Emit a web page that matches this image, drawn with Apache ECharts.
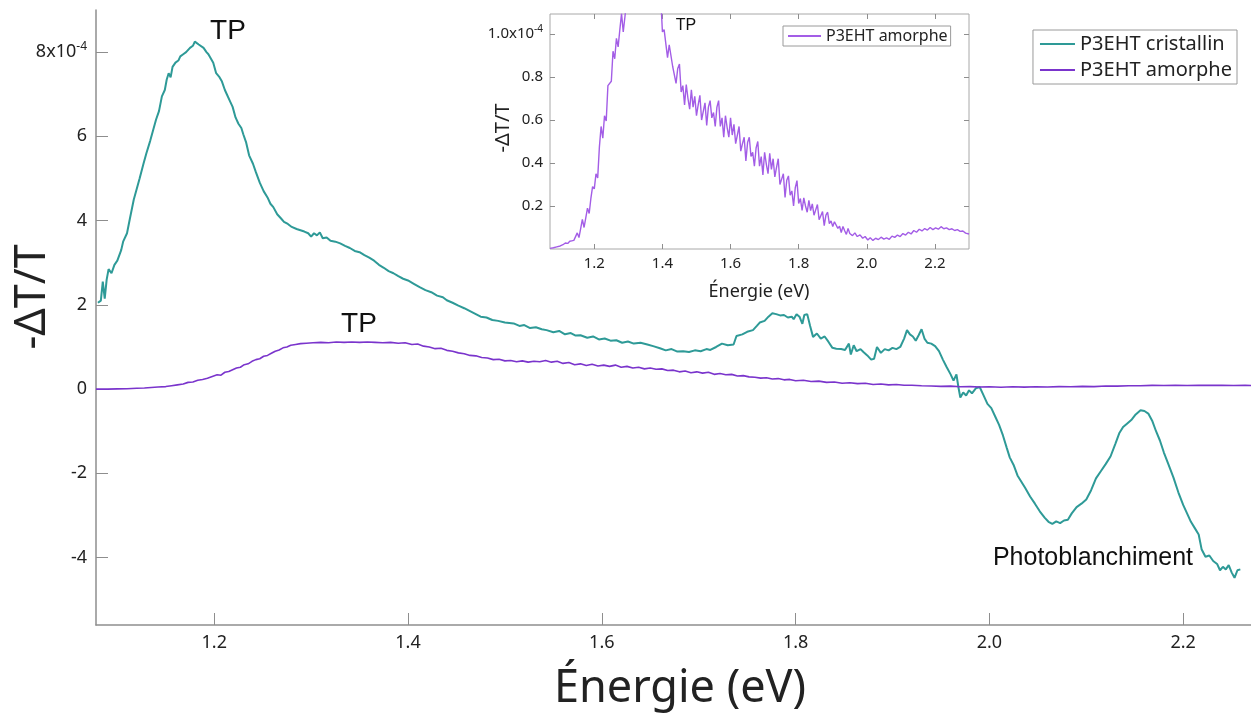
<!DOCTYPE html>
<html>
<head>
<meta charset="utf-8">
<script src="https://cdn.jsdelivr.net/npm/echarts@6/dist/echarts.min.js"></script>
<style>
  html, body { margin: 0; padding: 0; background: #fff; }
  #chart { width: 1251px; height: 717px; }
</style>
</head>
<body>
<div id="chart"></div>
<script>
// Transient absorption spectra, -ΔT/T in units of 1e-4, energy in eV
const crystallin = [
  [1.080,2.05],[1.083,2.10],[1.085,2.55],[1.087,2.15],[1.089,2.60],[1.091,2.85],[1.094,2.75],[1.097,2.95],
  [1.100,3.05],[1.104,3.30],[1.106,3.50],[1.110,3.70],[1.113,4.05],[1.117,4.50],[1.120,4.75],[1.123,5.00],
  [1.127,5.35],[1.130,5.60],[1.134,5.90],[1.137,6.15],[1.140,6.40],[1.143,6.60],[1.146,6.95],[1.149,7.10],
  [1.151,7.35],[1.153,7.50],[1.155,7.40],[1.157,7.65],[1.160,7.75],[1.163,7.80],[1.165,7.90],[1.168,7.95],
  [1.171,8.00],[1.175,8.10],[1.178,8.15],[1.180,8.25],[1.182,8.28],[1.184,8.18],[1.186,8.22],[1.189,8.10],
  [1.192,8.00],[1.194,7.95],[1.196,7.98],[1.199,7.75],[1.202,7.50],[1.205,7.42],[1.208,7.30],[1.211,7.10],
  [1.213,7.00],[1.216,6.85],[1.219,6.70],[1.222,6.45],[1.225,6.30],[1.228,6.20],[1.230,6.05],[1.233,5.85],
  [1.236,5.55],[1.240,5.35],[1.243,5.15],[1.247,4.90],[1.251,4.70],[1.255,4.55],[1.258,4.40],[1.261,4.32],
  [1.265,4.15],[1.269,4.05],[1.272,3.97],[1.276,3.92],[1.280,3.85],[1.285,3.80],[1.289,3.77],[1.293,3.74],
  [1.297,3.70],[1.300,3.62],[1.303,3.70],[1.306,3.65],[1.309,3.72],[1.312,3.58],[1.316,3.60],[1.320,3.52],
  [1.325,3.50],[1.330,3.46],[1.335,3.40],[1.340,3.35],[1.345,3.28],[1.350,3.25],[1.355,3.18],[1.360,3.12],
  [1.365,3.05],[1.370,2.95],[1.375,2.88],[1.380,2.80],[1.385,2.75],[1.390,2.68],[1.395,2.62],[1.400,2.58],
  [1.406,2.50],[1.412,2.42],[1.418,2.35],[1.424,2.30],[1.430,2.22],[1.436,2.18],[1.440,2.11],[1.446,2.05],
  [1.452,1.98],[1.458,1.92],[1.464,1.85],[1.470,1.78],[1.475,1.72],[1.481,1.70],[1.487,1.64],[1.493,1.62],
  [1.500,1.58],[1.509,1.56],[1.515,1.50],[1.520,1.52],[1.526,1.45],[1.532,1.47],[1.538,1.42],[1.543,1.40],
  [1.550,1.35],[1.556,1.38],[1.562,1.30],[1.568,1.33],[1.573,1.27],[1.578,1.28],[1.585,1.22],[1.591,1.25],
  [1.597,1.18],[1.603,1.20],[1.609,1.15],[1.615,1.16],[1.621,1.10],[1.627,1.13],[1.633,1.08],[1.640,1.10],
  [1.647,1.06],[1.653,1.02],[1.660,0.97],[1.666,0.92],[1.672,0.95],[1.678,0.89],[1.684,0.90],[1.690,0.88],
  [1.696,0.92],[1.702,0.90],[1.708,0.95],[1.712,0.93],[1.718,1.00],[1.724,1.08],[1.730,1.04],[1.736,1.06],
  [1.739,1.26],[1.745,1.30],[1.750,1.36],[1.756,1.40],[1.760,1.50],[1.763,1.58],[1.768,1.62],[1.772,1.72],
  [1.776,1.80],[1.780,1.78],[1.784,1.75],[1.788,1.76],[1.792,1.70],[1.796,1.72],[1.798,1.66],[1.801,1.78],
  [1.804,1.72],[1.807,1.55],[1.809,1.76],[1.812,1.78],[1.815,1.50],[1.818,1.24],[1.822,1.32],[1.826,1.20],
  [1.830,1.25],[1.834,1.12],[1.838,0.98],[1.842,0.96],[1.847,0.95],[1.851,0.93],[1.855,1.08],[1.857,0.82],
  [1.860,1.04],[1.863,0.90],[1.867,0.95],[1.870,0.88],[1.874,0.80],[1.878,0.70],[1.881,0.72],[1.884,1.00],
  [1.888,0.86],[1.892,0.95],[1.896,0.92],[1.900,0.98],[1.904,0.95],[1.908,1.00],[1.912,1.20],[1.915,1.40],
  [1.918,1.30],[1.921,1.25],[1.924,1.15],[1.927,1.28],[1.930,1.42],[1.933,1.20],[1.936,1.10],[1.940,1.08],
  [1.944,1.02],[1.948,0.90],[1.952,0.70],[1.956,0.52],[1.960,0.35],[1.963,0.20],[1.966,0.35],[1.968,0.05],
  [1.970,-0.20],[1.973,-0.08],[1.976,-0.15],[1.979,-0.03],[1.982,-0.10],[1.986,0.02],[1.990,0.05],[1.994,-0.15],
  [1.998,-0.35],[2.002,-0.45],[2.006,-0.65],[2.010,-0.85],[2.014,-1.10],[2.018,-1.40],[2.021,-1.62],[2.025,-1.80],
  [2.029,-2.05],[2.033,-2.20],[2.037,-2.35],[2.042,-2.55],[2.047,-2.72],[2.052,-2.90],[2.057,-3.05],[2.061,-3.15],
  [2.065,-3.20],[2.069,-3.14],[2.073,-3.18],[2.077,-3.12],[2.081,-3.10],[2.085,-2.95],[2.090,-2.80],[2.095,-2.72],
  [2.100,-2.62],[2.105,-2.40],[2.110,-2.12],[2.115,-1.95],[2.120,-1.78],[2.125,-1.60],[2.130,-1.30],[2.134,-1.05],
  [2.138,-0.90],[2.142,-0.82],[2.147,-0.72],[2.151,-0.60],[2.156,-0.50],[2.160,-0.52],[2.164,-0.58],[2.168,-0.75],
  [2.172,-1.00],[2.176,-1.22],[2.180,-1.50],[2.185,-1.80],[2.190,-2.10],[2.195,-2.45],[2.200,-2.75],[2.204,-2.95],
  [2.208,-3.15],[2.212,-3.30],[2.216,-3.45],[2.219,-3.80],[2.223,-3.98],[2.227,-3.95],[2.231,-4.08],[2.235,-4.15],
  [2.238,-4.30],[2.241,-4.22],[2.244,-4.28],[2.247,-4.18],[2.250,-4.35],[2.253,-4.48],[2.256,-4.30],[2.259,-4.28]
];

// amorphous film, averaged trace shown on the main axes
const amorphe = [
  [1.078,0.000],[1.090,0.000],[1.100,0.005],[1.110,0.010],[1.120,0.020],[1.128,0.025],[1.135,0.040],[1.142,0.050],
  [1.150,0.060],[1.156,0.080],[1.162,0.100],[1.168,0.120],[1.173,0.160],[1.178,0.170],[1.183,0.210],[1.188,0.230],
  [1.193,0.260],[1.198,0.300],[1.203,0.340],[1.207,0.330],[1.211,0.400],[1.215,0.420],[1.219,0.460],[1.223,0.500],
  [1.227,0.520],[1.231,0.580],[1.235,0.600],[1.239,0.660],[1.243,0.700],[1.247,0.720],[1.251,0.780],[1.255,0.800],
  [1.259,0.850],[1.263,0.900],[1.267,0.930],[1.271,0.980],[1.275,1.000],[1.279,1.040],[1.284,1.060],[1.289,1.080],
  [1.295,1.090],[1.302,1.100],[1.310,1.110],[1.318,1.100],[1.326,1.120],[1.334,1.110],[1.342,1.120],[1.350,1.110],
  [1.358,1.120],[1.366,1.110],[1.374,1.100],[1.382,1.110],[1.390,1.090],[1.397,1.100],[1.404,1.060],[1.410,1.070],
  [1.416,1.020],[1.422,1.000],[1.428,0.960],[1.434,0.970],[1.440,0.920],[1.446,0.900],[1.452,0.860],[1.458,0.840],
  [1.464,0.800],[1.470,0.790],[1.476,0.750],[1.482,0.740],[1.488,0.700],[1.494,0.710],[1.500,0.670],[1.506,0.680],
  [1.512,0.650],[1.518,0.670],[1.524,0.640],[1.530,0.660],[1.536,0.650],[1.542,0.680],[1.548,0.640],[1.554,0.660],
  [1.560,0.610],[1.566,0.630],[1.572,0.580],[1.578,0.600],[1.584,0.560],[1.590,0.590],[1.596,0.550],[1.602,0.570],
  [1.608,0.540],[1.614,0.570],[1.620,0.520],[1.626,0.540],[1.632,0.500],[1.638,0.520],[1.644,0.480],[1.650,0.500],
  [1.656,0.470],[1.662,0.480],[1.668,0.440],[1.674,0.450],[1.680,0.410],[1.686,0.430],[1.692,0.390],[1.698,0.410],
  [1.704,0.380],[1.710,0.400],[1.716,0.350],[1.722,0.370],[1.728,0.340],[1.734,0.350],[1.740,0.310],[1.746,0.320],
  [1.752,0.290],[1.758,0.280],[1.764,0.260],[1.770,0.270],[1.776,0.240],[1.782,0.250],[1.788,0.220],[1.794,0.230],
  [1.800,0.200],[1.808,0.210],[1.816,0.180],[1.824,0.190],[1.832,0.160],[1.840,0.170],[1.848,0.140],[1.856,0.150],
  [1.864,0.130],[1.872,0.140],[1.880,0.110],[1.888,0.120],[1.896,0.100],[1.904,0.110],[1.912,0.090],[1.920,0.090],
  [1.930,0.080],[1.940,0.075],[1.950,0.065],[1.960,0.070],[1.970,0.055],[1.980,0.060],[1.990,0.050],[2.000,0.055],
  [2.012,0.045],[2.024,0.055],[2.036,0.048],[2.048,0.055],[2.060,0.050],[2.072,0.060],[2.084,0.055],[2.096,0.065],
  [2.108,0.060],[2.120,0.075],[2.132,0.070],[2.144,0.080],[2.156,0.078],[2.168,0.088],[2.180,0.085],[2.192,0.090],
  [2.204,0.085],[2.216,0.092],[2.228,0.088],[2.240,0.090],[2.252,0.085],[2.264,0.088],[2.276,0.085]
];

// amorphous film, raw trace shown in the inset
const amorpheRaw = [
  [1.070,0.003],[1.080,0.006],[1.090,0.010],[1.100,0.014],[1.108,0.020],[1.115,0.028],[1.122,0.026],[1.128,0.036],
  [1.134,0.038],[1.140,0.040],[1.145,0.048],[1.150,0.075],[1.155,0.053],[1.160,0.095],[1.165,0.138],[1.170,0.100],
  [1.175,0.145],[1.180,0.190],[1.185,0.165],[1.190,0.235],[1.195,0.290],[1.200,0.280],[1.205,0.350],[1.210,0.330],
  [1.215,0.475],[1.220,0.570],[1.225,0.515],[1.230,0.620],[1.235,0.595],[1.240,0.760],[1.245,0.765],[1.250,0.780],
  [1.255,0.920],[1.260,0.885],[1.265,0.980],[1.270,0.940],[1.275,1.020],[1.280,1.095],[1.285,1.010],[1.290,1.080],
  [1.295,1.155],[1.300,1.120],[1.305,1.165],[1.310,1.180],[1.315,1.140],[1.320,1.155],[1.325,1.125],[1.330,1.170],
  [1.335,1.190],[1.340,1.135],[1.345,1.160],[1.350,1.120],[1.355,1.175],[1.360,1.150],[1.365,1.130],[1.370,1.180],
  [1.375,1.145],[1.380,1.175],[1.385,1.135],[1.390,1.160],[1.395,1.170],[1.400,1.010],[1.405,1.020],[1.410,1.025],
  [1.415,0.890],[1.420,0.950],[1.425,0.955],[1.430,0.850],[1.435,0.855],[1.440,0.770],[1.445,0.840],[1.450,0.860],
  [1.455,0.730],[1.460,0.760],[1.465,0.670],[1.470,0.765],[1.475,0.700],[1.480,0.650],[1.485,0.740],[1.490,0.660],
  [1.495,0.710],[1.500,0.620],[1.505,0.670],[1.510,0.715],[1.515,0.600],[1.520,0.640],[1.525,0.680],[1.530,0.575],
  [1.535,0.660],[1.540,0.690],[1.545,0.610],[1.550,0.635],[1.555,0.570],[1.560,0.660],[1.565,0.690],[1.570,0.570],
  [1.575,0.610],[1.580,0.520],[1.585,0.620],[1.590,0.565],[1.595,0.520],[1.600,0.610],[1.605,0.530],[1.610,0.580],
  [1.615,0.490],[1.620,0.530],[1.625,0.570],[1.630,0.455],[1.635,0.490],[1.640,0.520],[1.645,0.410],[1.650,0.495],
  [1.655,0.520],[1.660,0.430],[1.665,0.450],[1.670,0.385],[1.675,0.470],[1.680,0.500],[1.685,0.385],[1.690,0.430],
  [1.695,0.345],[1.700,0.450],[1.705,0.395],[1.710,0.350],[1.715,0.445],[1.720,0.370],[1.725,0.420],[1.730,0.335],
  [1.735,0.380],[1.740,0.420],[1.745,0.300],[1.750,0.325],[1.755,0.350],[1.760,0.240],[1.765,0.320],[1.770,0.340],
  [1.775,0.250],[1.780,0.270],[1.785,0.200],[1.790,0.285],[1.795,0.318],[1.800,0.212],[1.805,0.235],[1.810,0.179],
  [1.815,0.238],[1.820,0.200],[1.825,0.171],[1.830,0.226],[1.835,0.179],[1.840,0.210],[1.845,0.157],[1.850,0.182],
  [1.855,0.207],[1.860,0.136],[1.865,0.155],[1.870,0.174],[1.875,0.109],[1.880,0.158],[1.885,0.171],[1.890,0.118],
  [1.895,0.131],[1.900,0.105],[1.905,0.127],[1.910,0.134],[1.915,0.096],[1.920,0.106],[1.925,0.077],[1.930,0.105],
  [1.935,0.085],[1.940,0.068],[1.945,0.096],[1.950,0.072],[1.958,0.062],[1.965,0.075],[1.972,0.058],[1.980,0.066],
  [1.988,0.050],[1.995,0.058],[2.003,0.042],[2.010,0.052],[2.018,0.040],[2.026,0.050],[2.034,0.044],[2.042,0.055],
  [2.050,0.046],[2.058,0.052],[2.066,0.045],[2.074,0.060],[2.082,0.054],[2.090,0.065],[2.098,0.058],[2.106,0.072],
  [2.114,0.065],[2.122,0.078],[2.130,0.070],[2.138,0.086],[2.146,0.078],[2.154,0.092],[2.162,0.084],[2.170,0.095],
  [2.178,0.088],[2.186,0.100],[2.194,0.090],[2.202,0.098],[2.210,0.092],[2.218,0.104],[2.226,0.094],[2.234,0.098],
  [2.242,0.090],[2.250,0.094],[2.258,0.086],[2.266,0.090],[2.274,0.082],[2.282,0.084],[2.290,0.074],[2.300,0.070]
];

const energyTicks = [1.2, 1.4, 1.6, 1.8, 2.0, 2.2];
const mainValueTicks = [-4, -2, 0, 2, 4, 6, 8];
const insetValueTicks = [0.2, 0.4, 0.6, 0.8, 1.0];

const TEAL = '#2e9a97';
const PURPLE = '#7a34cc';
const PURPLE_LIGHT = '#a35de6';
const AXIS_GREY = '#8e8e8e';
const TEXT = '#222';
const FONT = '"Noto Sans", "Open Sans", sans-serif';
const HELV = '"Liberation Sans", Arial, sans-serif';

const chart = echarts.init(document.getElementById('chart'), null, { renderer: 'canvas' });

const sciRich = (size, supSize) => ({
  b: { fontSize: size, color: TEXT, fontFamily: FONT },
  s: { fontSize: supSize, color: TEXT, fontFamily: FONT, verticalAlign: 'top', padding: [0, 0, Math.round(size * 0.6), 0] }
});

chart.setOption({
  animation: false,
  backgroundColor: '#fff',
  grid: [
    { left: 96, top: 10, right: 0, bottom: 92, outerBoundsMode: 'none' },
    { left: 550, top: 14, width: 419, height: 235, show: true, backgroundColor: '#fff',
      borderColor: '#a8a8a8', borderWidth: 1, z: 5, outerBoundsMode: 'none' }
  ],
  xAxis: [
    {
      gridIndex: 0, type: 'value', min: 1.078, max: 2.27,
      axisLine: { show: true, onZero: false, lineStyle: { color: AXIS_GREY, width: 1.5 } },
      axisTick: { show: true, inside: true, length: 12, customValues: energyTicks, lineStyle: { color: AXIS_GREY, width: 1 } },
      axisLabel: { customValues: energyTicks, formatter: v => v.toFixed(1), fontSize: 18, color: TEXT, fontFamily: FONT, margin: 9 },
      splitLine: { show: false }
    },
    {
      gridIndex: 1, type: 'value', min: 1.07, max: 2.30, z: 6,
      axisLine: { show: false, onZero: false },
      axisTick: { show: true, inside: true, length: 5, customValues: energyTicks, lineStyle: { color: AXIS_GREY } },
      axisLabel: { customValues: energyTicks, formatter: v => v.toFixed(1), fontSize: 15, color: TEXT, fontFamily: FONT, margin: 7 },
      splitLine: { show: false }
    },
    {
      gridIndex: 1, type: 'value', min: 1.07, max: 2.30, position: 'top', z: 6,
      axisLine: { show: false, onZero: false },
      axisTick: { show: true, inside: true, length: 5, customValues: energyTicks, lineStyle: { color: AXIS_GREY } },
      axisLabel: { show: false },
      splitLine: { show: false }
    }
  ],
  yAxis: [
    {
      gridIndex: 0, type: 'value', min: -5.6, max: 9,
      axisLine: { show: true, onZero: false, lineStyle: { color: AXIS_GREY, width: 1.5 } },
      axisTick: { show: true, inside: true, length: 12, customValues: mainValueTicks, lineStyle: { color: AXIS_GREY, width: 1 } },
      axisLabel: {
        customValues: mainValueTicks, fontSize: 18, color: TEXT, fontFamily: FONT, margin: 9,
        formatter: v => v === 8 ? '{b|8x10}{s|-4}' : '{b|' + v + '}',
        rich: sciRich(18, 12)
      },
      splitLine: { show: false }
    },
    {
      gridIndex: 1, type: 'value', min: 0, max: 1.093, z: 6,
      axisLine: { show: false, onZero: false },
      axisTick: { show: true, inside: true, length: 5, customValues: insetValueTicks, lineStyle: { color: AXIS_GREY } },
      axisLabel: {
        customValues: insetValueTicks, fontSize: 15, color: TEXT, fontFamily: FONT, margin: 7,
        formatter: v => v === 1 ? '{b|1.0x10}{s|-4}' : '{b|' + v.toFixed(1) + '}',
        rich: sciRich(15, 10)
      },
      splitLine: { show: false }
    },
    {
      gridIndex: 1, type: 'value', min: 0, max: 1.093, position: 'right', z: 6,
      axisLine: { show: false, onZero: false },
      axisTick: { show: true, inside: true, length: 5, customValues: insetValueTicks, lineStyle: { color: AXIS_GREY } },
      axisLabel: { show: false },
      splitLine: { show: false }
    }
  ],
  legend: [
    {
      orient: 'vertical', right: 14, top: 30, z: 10,
      backgroundColor: '#fff', borderColor: '#9a9a9a', borderWidth: 1, borderRadius: 0,
      padding: [4, 5, 4, 7], itemGap: 6, itemWidth: 35, itemHeight: 2, icon: 'rect',
      textStyle: { fontSize: 20, color: TEXT, fontFamily: FONT },
      data: [
        { name: 'P3EHT cristallin', itemStyle: { color: TEAL } },
        { name: 'P3EHT amorphe', itemStyle: { color: PURPLE } }
      ],
      selectedMode: false
    },
    {
      orient: 'vertical', left: 783, top: 26, z: 10,
      backgroundColor: '#fff', borderColor: '#9a9a9a', borderWidth: 1, borderRadius: 0,
      padding: [2, 3, 2, 5], itemWidth: 33, itemHeight: 2, icon: 'rect',
      textStyle: { fontSize: 16, color: TEXT, fontFamily: FONT },
      data: [ { name: 'P3EHT amorphe', itemStyle: { color: PURPLE_LIGHT } } ],
      selectedMode: false
    }
  ],
  series: [
    {
      name: 'P3EHT cristallin', type: 'line', xAxisIndex: 0, yAxisIndex: 0,
      data: crystallin, symbol: 'none',
      lineStyle: { color: TEAL, width: 2 }, itemStyle: { color: TEAL }
    },
    {
      name: 'P3EHT amorphe', type: 'line', xAxisIndex: 0, yAxisIndex: 0,
      data: amorphe, symbol: 'none',
      lineStyle: { color: PURPLE, width: 1.6 }, itemStyle: { color: PURPLE }
    },
    {
      name: 'P3EHT amorphe', type: 'line', xAxisIndex: 1, yAxisIndex: 1, z: 7,
      data: amorpheRaw, symbol: 'none', clip: true,
      lineStyle: { color: PURPLE_LIGHT, width: 1.4 }, itemStyle: { color: PURPLE_LIGHT }
    }
  ],
  graphic: [
    // axis titles
    { type: 'text', x: 33, y: 297, rotation: Math.PI / 2, z: 20,
      style: { text: '-ΔT/T', font: '43px ' + FONT, fill: TEXT, textAlign: 'center', textVerticalAlign: 'middle' } },
    { type: 'text', x: 680, y: 689, z: 20,
      style: { text: 'Énergie (eV)', font: '45px ' + FONT, fill: TEXT, textAlign: 'center', textVerticalAlign: 'middle' } },
    { type: 'text', x: 503, y: 128, rotation: Math.PI / 2, z: 20,
      style: { text: '-ΔT/T', font: '20px ' + FONT, fill: TEXT, textAlign: 'center', textVerticalAlign: 'middle' } },
    { type: 'text', x: 759, y: 292, z: 20,
      style: { text: 'Énergie (eV)', font: '18px ' + FONT, fill: TEXT, textAlign: 'center', textVerticalAlign: 'middle' } },
    // band annotations
    { type: 'text', x: 228, y: 31, z: 20,
      style: { text: 'TP', font: '28px ' + HELV, fill: '#111', textAlign: 'center', textVerticalAlign: 'middle' } },
    { type: 'text', x: 359, y: 324, z: 20,
      style: { text: 'TP', font: '28px ' + HELV, fill: '#111', textAlign: 'center', textVerticalAlign: 'middle' } },
    { type: 'text', x: 686, y: 26, z: 20,
      style: { text: 'TP', font: '16px ' + HELV, fill: '#111', textAlign: 'center', textVerticalAlign: 'middle' } },
    { type: 'text', x: 1093, y: 558, z: 20,
      style: { text: 'Photoblanchiment', font: '25px ' + HELV, fill: '#111', textAlign: 'center', textVerticalAlign: 'middle' } }
  ]
});
</script>
</body>
</html>
